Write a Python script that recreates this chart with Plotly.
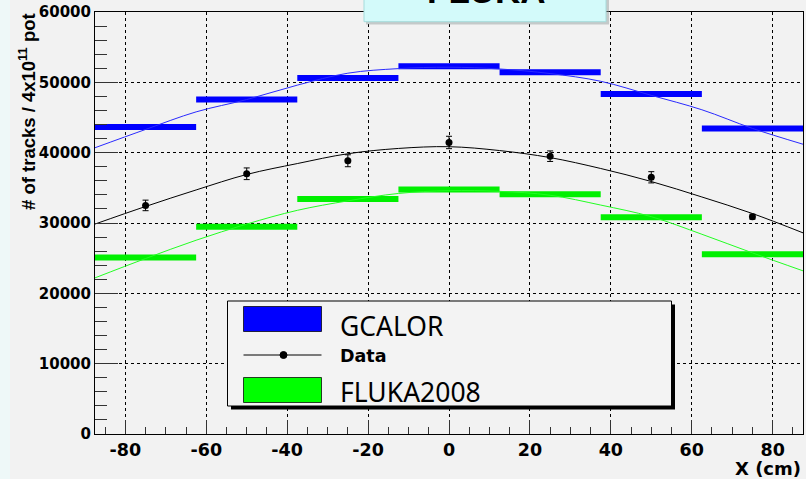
import plotly.graph_objects as go

# ---- histogram bins (cm) and simulated track counts per 4x10^11 pot ----
bin_edges = [-87.5, -62.5, -37.5, -12.5, 12.5, 37.5, 62.5, 87.5]
gcalor_counts = [43650, 47550, 50600, 52300, 51450, 48350, 43450]
fluka_counts = [25100, 29450, 33400, 34750, 34100, 30800, 25550]

# ---- measured data with statistical errors ----
data_x = [-75, -50, -25, 0, 25, 50, 75]
data_counts = [32500, 37000, 38850, 41450, 39500, 36500, 30900]
data_errors = [750, 830, 850, 880, 750, 800, 350]

# ---- fitted profiles sampled along X ----
fit_x = [-87.5, -75, -62.5, -50, -37.5, -25, -12.5, 0, 12.5, 25, 37.5, 50, 62.5, 75, 87.5]
gcalor_fit = [40700, 43300, 45800, 47550, 49600, 51300, 51950, 52150, 51900, 51250, 50150, 48150, 46100, 43450, 41200]
data_fit = [29850, 32350, 34700, 36900, 38450, 39850, 40600, 40850, 40300, 39300, 37750, 35900, 33700, 31350, 28600]
fluka_fit = [22200, 24950, 27550, 29850, 31800, 33150, 34200, 34600, 34500, 33950, 32550, 30900, 28400, 25750, 23200]

# ---- axis ticks ----
x_ticks = [-80, -60, -40, -20, 0, 20, 40, 60, 80]
y_ticks = [0, 10000, 20000, 30000, 40000, 50000, 60000]

W, H = 806, 479
ML, MR, MT, MB = 95, 3, 12, 45
PW = W - ML - MR
PH = H - MT - MB


def px(x):
    return (x - ML) / PW


def py(y):
    return (H - MB - y) / PH


def step_segments(edges, values):
    xs, ys = [], []
    for lo, hi, v in zip(edges[:-1], edges[1:], values):
        xs += [lo, hi, None]
        ys += [v, v, None]
    return xs, ys


BLUE = "#0000ff"
GREEN = "#00f000"
BOLD = "DejaVu Sans"

fig = go.Figure()

gx, gy = step_segments(bin_edges, gcalor_counts)
fig.add_trace(go.Scatter(x=gx, y=gy, mode="lines", line=dict(color=BLUE, width=6),
                         name="GCALOR", showlegend=False))
fx, fy = step_segments(bin_edges, fluka_counts)
fig.add_trace(go.Scatter(x=fx, y=fy, mode="lines", line=dict(color=GREEN, width=6),
                         name="FLUKA2008", showlegend=False))

for ys, col in [(gcalor_fit, "#2a2aff"), (fluka_fit, "#22ff22"), (data_fit, "black")]:
    fig.add_trace(go.Scatter(x=fit_x, y=ys, mode="lines", line=dict(color=col, width=1, shape="spline"),
                             showlegend=False, hoverinfo="skip"))

fig.add_trace(go.Scatter(
    x=data_x, y=data_counts, mode="markers", name="Data", showlegend=False,
    marker=dict(color="black", size=7),
    error_y=dict(type="data", array=data_errors, color="black", thickness=1, width=3),
))

axis_common = dict(
    ticks="inside", tickcolor="#333", tickwidth=1,
    showgrid=True, gridcolor="black", griddash="dot", gridwidth=1,
    showline=True, linecolor="black", linewidth=1, mirror=True,
    zeroline=False, tickmode="array",
)

fig.update_xaxes(
    range=[-87.5, 87.5], tickvals=x_ticks, ticktext=[str(v) for v in x_ticks], ticklen=14,
    tickfont=dict(family=BOLD, size=17.5, color="black", weight="bold"),
    minor=dict(tickmode="linear", tick0=0, dtick=5, ticks="inside", ticklen=7,
               tickcolor="#333", showgrid=False),
    **axis_common,
)
fig.update_yaxes(
    range=[0, 60000], tickvals=y_ticks, ticktext=[str(v) for v in y_ticks], ticklen=23,
    tickfont=dict(family=BOLD, size=15, color="black", weight="bold"),
    minor=dict(tickmode="linear", tick0=0, dtick=2000, ticks="inside", ticklen=11.5,
               tickcolor="#333", showgrid=False),
    **axis_common,
)

shapes = []
# pale strip on the far left
shapes.append(dict(type="rect", xref="paper", yref="paper", x0=px(-2), x1=px(10), y0=py(H + 2), y1=py(-2),
                   fillcolor="#eef8f8", line=dict(width=0), layer="below"))

# title box at the top (shadow + box)
shapes.append(dict(type="rect", xref="paper", yref="paper", x0=px(366), x1=px(609), y0=py(24.5), y1=py(-6),
                   fillcolor="rgba(140,150,150,0.45)", line=dict(width=0), layer="above"))
shapes.append(dict(type="rect", xref="paper", yref="paper", x0=px(364), x1=px(606), y0=py(21.7), y1=py(-6),
                   fillcolor="#d3fafa", line=dict(color="#a6dcdc", width=1), layer="above"))

# legend frame with drop shadow
shapes.append(dict(type="rect", xref="paper", yref="paper", x0=px(231), x1=px(675), y0=py(409.5), y1=py(304.5),
                   fillcolor="black", line=dict(width=0), layer="above"))
shapes.append(dict(type="rect", xref="paper", yref="paper", x0=px(227.5), x1=px(671.5), y0=py(406), y1=py(301),
                   fillcolor="#f3f3f3", line=dict(color="black", width=1), layer="above"))
# legend swatches
shapes.append(dict(type="rect", xref="paper", yref="paper", x0=px(243.5), x1=px(321.5), y0=py(331.5), y1=py(306.5),
                   fillcolor=BLUE, line=dict(color="#202040", width=1), layer="above"))
shapes.append(dict(type="rect", xref="paper", yref="paper", x0=px(243.5), x1=px(321.5), y0=py(402.5), y1=py(377.5),
                   fillcolor="#00ff00", line=dict(color="#204020", width=1), layer="above"))
shapes.append(dict(type="line", xref="paper", yref="paper", x0=px(243.5), x1=px(321.5), y0=py(355), y1=py(355),
                   line=dict(color="black", width=1), layer="above"))
shapes.append(dict(type="circle", xref="paper", yref="paper", x0=px(280), x1=px(287), y0=py(358.5), y1=py(351.5),
                   fillcolor="black", line=dict(color="black", width=1), layer="above"))

annotations = [
    dict(text="FLUKA", xref="paper", yref="paper", x=px(486), y=1.0, xanchor="center", yanchor="bottom",
         showarrow=False, font=dict(family="Liberation Sans", size=35, color="black", weight="bold")),
    dict(text="GCALOR", xref="paper", yref="paper", x=px(338), y=py(326), xanchor="left", yanchor="middle",
         showarrow=False, font=dict(family="Noto Sans", size=26.5, color="black")),
    dict(text="Data", xref="paper", yref="paper", x=px(338), y=py(355.5), xanchor="left", yanchor="middle",
         showarrow=False, font=dict(family=BOLD, size=17.5, color="black", weight="bold")),
    dict(text="FLUKA2008", xref="paper", yref="paper", x=px(338), y=py(392), xanchor="left", yanchor="middle",
         showarrow=False, font=dict(family="Noto Sans", size=26.5, color="black")),
    dict(text="# of tracks / 4x10<sup>11</sup> pot", xref="paper", yref="paper", x=px(27), y=py(112),
         xanchor="center", yanchor="middle", textangle=-90, showarrow=False,
         font=dict(family="Liberation Sans", size=18.5, color="black", weight="bold")),
    dict(text="X (cm)", xref="paper", yref="paper", x=px(802), y=py(469), xanchor="right", yanchor="middle",
         showarrow=False, borderpad=0,
         font=dict(family=BOLD, size=18, color="black", weight="bold")),
]

fig.update_layout(
    width=W, height=H,
    margin=dict(l=ML, r=MR, t=MT, b=MB),
    paper_bgcolor="#f2f2f2", plot_bgcolor="#f2f2f2",
    showlegend=False,
    shapes=shapes,
    annotations=annotations,
)

fig.write_html("out.html")
